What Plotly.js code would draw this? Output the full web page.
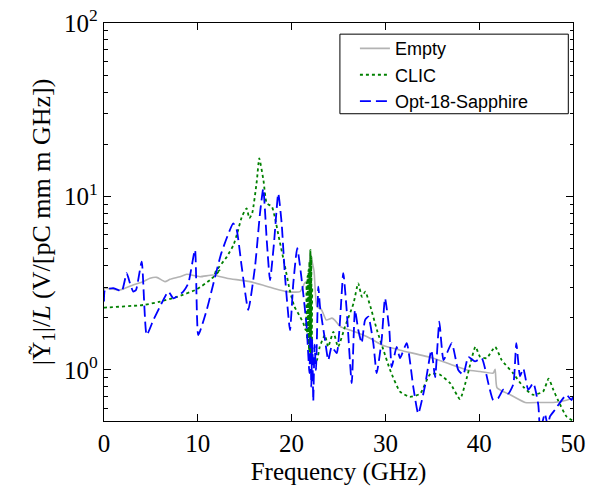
<!DOCTYPE html>
<html>
<head>
<meta charset="utf-8">
<script src="https://cdn.plot.ly/plotly-3.0.1.min.js"></script>
<style>html,body{margin:0;padding:0;background:#fff;}#chart{width:606px;height:494px;}</style>
</head>
<body>
<div id="chart"></div>
<script>
// Empty
const emptyX = [0, 0.1, 1.7, 3.1, 4.16, 4.9, 5.62, 6.5, 7.04, 8.1, 8.82, 10.23, 11.6, 13.1, 15.56, 18.05, 19.5, 20.9, 21.4, 21.75, 22.0, 22.2, 22.4, 22.7, 23.2, 23.7, 24.3, 24.6, 25.2, 26.2, 28.0, 29.7, 31.6, 35.1, 38.7, 40.1, 41.5, 41.7, 41.9, 43.3, 44.9, 46.5, 47.9, 49.3, 50];
const emptyY = [2.9, 2.96, 2.89, 3.09, 3.23, 3.38, 3.42, 3.23, 3.33, 3.45, 3.56, 3.45, 3.53, 3.38, 3.23, 2.96, 2.83, 2.83, 3.17, 3.30, 4.81, 4.19, 3.69, 2.32, 2.22, 1.94, 1.99, 1.94, 1.78, 1.70, 1.56, 1.39, 1.30, 1.17, 1.0, 0.98, 0.96, 1.01, 0.79, 0.72, 0.65, 0.65, 0.65, 0.67, 0.69];

// CLIC
const clicX = [0, 0.1, 4.2, 6.0, 7.8, 9.9, 11.3, 12.4, 11.8, 13.1, 13.8, 14.2, 14.7, 15.2, 15.5, 15.8, 16.3, 16.55, 17.0, 17.35, 17.9, 18.2, 18.7, 19.3, 19.8, 20.3, 20.9, 21.25, 21.5, 21.6, 21.65, 21.7, 21.75, 21.8, 21.85, 21.9, 21.95, 22.0, 22.05, 22.1, 22.15, 22.2, 22.3, 22.7, 23.0, 23.55, 23.9, 24.45, 24.95, 25.7, 26.6, 27.1, 27.5, 27.85, 28.4, 29.1, 29.8, 30.5, 31.56, 32.6, 33.7, 34.8, 35.8, 36.9, 37.95, 38.7, 39.6, 40.1, 40.8, 41.7, 42.4, 43.6, 44.7, 45.7, 46.8, 47.4, 47.9, 48.4, 49.3, 50];
const clicY = [2.29, 2.29, 2.37, 2.48, 2.64, 2.92, 3.30, 3.77, 3.61, 4.50, 5.25, 6.13, 7.65, 8.55, 7.49, 8.0, 12.4, 16.6, 12.4, 9.14, 8.74, 7.65, 5.61, 3.94, 2.89, 2.32, 2.03, 1.86, 1.7, 3.2, 1.5, 3.5, 1.4, 3.8, 1.3, 4.2, 1.2, 4.9, 1.1, 4.5, 1.1, 3.0, 1.1, 1.14, 1.36, 1.59, 1.36, 1.66, 1.36, 1.78, 2.42, 3.16, 2.64, 2.83, 2.32, 1.70, 1.30, 1.0, 0.75, 0.70, 0.73, 0.95, 0.94, 0.84, 0.68, 0.91, 1.36, 1.19, 1.17, 1.36, 1.14, 0.96, 0.80, 0.72, 0.75, 0.89, 0.77, 0.67, 0.54, 0.51];

// Opt-18-Sapphire
const sappX = [0, 0.1, 0.99, 1.52, 1.89, 2.42, 2.77, 3.12, 3.41, 4.02, 4.55, 5.26, 5.97, 6.86, 7.39, 8.45, 8.99, 9.7, 10.05, 10.95, 12.5, 13.78, 14.15, 14.68, 15.38, 16.1, 16.63, 16.98, 17.35, 17.7, 18.12, 18.58, 18.94, 19.3, 19.83, 20.18, 20.6, 21.08, 21.6, 21.9, 22.0, 22.1, 22.2, 22.31, 22.45, 22.6, 22.85, 23.03, 23.56, 23.91, 24.27, 24.81, 25.51, 25.87, 26.41, 26.76, 27.11, 27.47, 27.83, 28.18, 28.71, 29.07, 29.6, 29.96, 30.42, 30.67, 31.2, 31.56, 32.27, 32.97, 33.5, 34.2, 34.9, 35.3, 35.75, 36.2, 37.07, 37.77, 38.3, 38.84, 39.55, 40.27, 40.97, 41.5, 42.04, 42.57, 43.1, 43.64, 43.96, 44.35, 44.7, 45.23, 45.77, 46.3, 46.5, 47.0, 47.3, 47.55, 48.08, 48.8, 49.3, 49.84, 50];
const sappY = [2.48, 2.89, 2.96, 2.89, 2.83, 3.61, 3.16, 2.83, 2.89, 4.21, 1.59, 1.94, 2.32, 2.83, 2.59, 2.83, 3.16, 4.92, 1.59, 2.22, 4.7, 7.0, 6.41, 3.94, 2.22, 3.94, 8.0, 11.1, 5.61, 3.30, 5.37, 10.4, 7.0, 3.45, 1.70, 3.16, 5.03, 3.30, 1.78, 0.96, 1.6, 0.8, 1.5, 0.66, 1.4, 1.0, 3.02, 2.32, 1.49, 1.14, 1.36, 1.25, 3.61, 2.22, 0.84, 2.22, 1.70, 1.43, 1.94, 2.03, 1.43, 0.96, 1.49, 2.59, 1.70, 1.04, 1.36, 1.17, 1.43, 0.80, 0.56, 0.80, 1.30, 0.91, 1.90, 1.14, 1.43, 1.0, 0.94, 1.19, 1.12, 1.17, 0.84, 0.67, 0.69, 0.77, 0.73, 0.83, 1.43, 0.92, 1.02, 0.77, 0.84, 0.63, 0.45, 0.56, 0.48, 0.54, 0.59, 0.67, 0.72, 0.67, 0.70];

const xTicks = [0, 10, 20, 30, 40, 50];
const yTickVals = [1, 10, 100];
const yTickText = ['10<sup>0</sup>', '10<sup>1</sup>', '10<sup>2</sup>'];

const serif = '"Liberation Serif", "DejaVu Serif", serif';
const traces = [
  {x: emptyX, y: emptyY, name: 'Empty', mode: 'lines', type: 'scatter',
   line: {color: '#b3b3b3', width: 1.6, shape: 'spline', smoothing: 0.5}},
  {x: clicX, y: clicY, name: 'CLIC', mode: 'lines', type: 'scatter',
   line: {color: '#008000', width: 1.8, dash: 'dot', shape: 'spline', smoothing: 0.5}},
  {x: sappX, y: sappY, name: 'Opt-18-Sapphire', mode: 'lines', type: 'scatter',
   line: {color: '#0000ff', width: 1.8, dash: '11px,5px', shape: 'spline', smoothing: 0.5}}
];

const layout = {
  width: 606, height: 494,
  margin: {l: 104, r: 33, t: 23, b: 73},
  paper_bgcolor: '#fff', plot_bgcolor: '#fff',
  showlegend: true,
  legend: {x: 0.535, y: 0.982, xanchor: 'left', yanchor: 'top',
           borderwidth: 0, bgcolor: 'rgba(0,0,0,0)',
           font: {family: '"Liberation Sans", Arial, sans-serif', size: 18, color: '#000'},
           tracegroupgap: 0},
  shapes: [{type: 'rect', xref: 'paper', yref: 'paper', x0: 0.503, x1: 0.99, y0: 0.772, y1: 0.972,
            line: {color: '#000', width: 1}, fillcolor: '#fff', layer: 'above'}],
  xaxis: {range: [0, 50], tickvals: xTicks, ticks: 'inside', ticklen: 7, tickcolor: '#000',
          showline: true, linecolor: '#000', linewidth: 1.2, mirror: 'ticks', showgrid: false, zeroline: false,
          tickfont: {family: serif, size: 25, color: '#000'},
          title: {text: 'Frequency (GHz)', font: {family: serif, size: 25, color: '#000'}, standoff: 6}},
  yaxis: {type: 'log', range: [-0.294, 2], tickvals: yTickVals, ticktext: yTickText,
          ticks: 'inside', ticklen: 7, tickcolor: '#000',
          minor: {ticks: 'inside', ticklen: 3.5, tickcolor: '#000', dtick: 'D1', showgrid: false},
          showline: true, linecolor: '#000', linewidth: 1.2, mirror: 'ticks', showgrid: false, zeroline: false,
          tickfont: {family: serif, size: 25, color: '#000'},
          title: {text: '|Ỹ<sub>1</sub>|/<i>L</i> (V/[pC mm m GHz])', font: {family: serif, size: 26, color: '#000'}, standoff: 6}}
};

Plotly.newPlot('chart', traces, layout, {displayModeBar: false, staticPlot: true});
</script>
</body>
</html>
